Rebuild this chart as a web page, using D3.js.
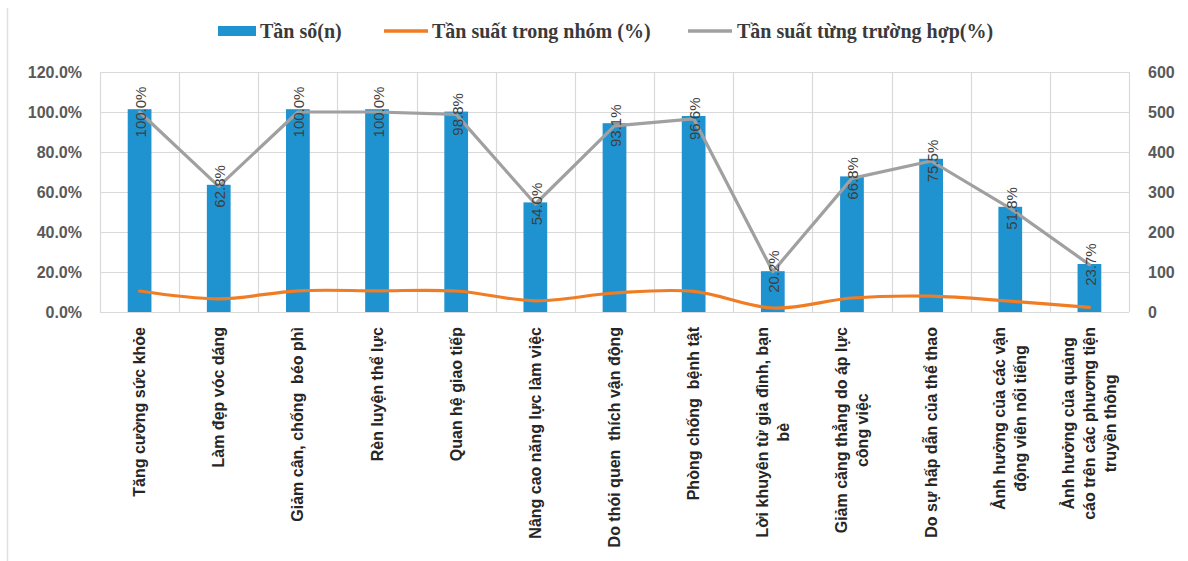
<!DOCTYPE html>
<html>
<head>
<meta charset="utf-8">
<script src="https://cdn.jsdelivr.net/npm/d3@7"></script>
<style>
  html, body { margin: 0; padding: 0; background: #fff; }
  svg { display: block; }
  .tick-label { font-family: "Liberation Sans", Arial, sans-serif; font-weight: bold; font-size: 16px; fill: #595959; }
  .cat-label { font-family: "Liberation Sans", Arial, sans-serif; font-weight: bold; font-size: 16px; fill: #262626; }
  .data-label { font-family: "Liberation Sans", Arial, sans-serif; font-size: 15px; fill: #404040; }
  .legend-text { font-family: "Liberation Serif", "Times New Roman", serif; font-weight: bold; font-size: 20px; fill: #3a3a3a; }
</style>
</head>
<body>
<svg id="chart" width="1188" height="561"></svg>
<script>
// Reasons for taking part in sport: counts, share within the group, share of cases
const categories = [
  "Tăng cường sức khỏe",
  "Làm đẹp vóc dáng",
  "Giảm cân, chống  béo phì",
  "Rèn luyện thể lực",
  "Quan hệ giao tiếp",
  "Nâng cao năng lực làm việc",
  "Do thói quen  thích vận động",
  "Phòng chống  bệnh tật",
  "Lời khuyên từ gia đình, bạn\nbè",
  "Giảm căng thẳng do áp lực\ncông việc",
  "Do sự hấp dẫn của thể thao",
  "Ảnh hưởng của các vận\nđộng viên nổi tiếng",
  "Ảnh hưởng của quảng\ncáo trên các phương tiện\ntruyền thông"
];
const counts = [507, 318, 507, 507, 501, 274, 472, 490, 102, 339, 383, 263, 120];
const groupShare = [10.5, 6.6, 10.6, 10.6, 10.5, 5.6, 9.5, 10.3, 2.0, 7.0, 7.9, 5.4, 2.3];
const caseShare = [100.0, 62.8, 100.0, 100.0, 98.8, 54.0, 93.1, 96.6, 20.2, 66.8, 75.5, 51.8, 23.7];
const leftTicks = [0, 20, 40, 60, 80, 100, 120];
const rightTicks = [0, 100, 200, 300, 400, 500, 600];
const legendItems = [
  { label: "Tần số(n)", type: "bar" },
  { label: "Tần suất trong nhóm (%)", type: "orange" },
  { label: "Tần suất từng trường hợp(%)", type: "grey" }
];

const colors = { bar: "#1f93d0", orange: "#f07c24", grey: "#a0a0a0", grid: "#d9d9d9" };

const svg = d3.select("#chart");
const plot = { left: 100, right: 1129, top: 72, bottom: 312 };

const x = d3.scaleBand().domain(d3.range(categories.length)).range([plot.left, plot.right]);
const yPct = d3.scaleLinear().domain([0, 120]).range([plot.bottom, plot.top]);
const yCount = d3.scaleLinear().domain([0, 600]).range([plot.bottom, plot.top]);
const cx = i => x(i) + x.bandwidth() / 2;

// outer frame line on the left side
svg.append("line").attr("x1", 7.5).attr("x2", 7.5).attr("y1", 8).attr("y2", 561)
  .attr("stroke", "#e0e0e0").attr("stroke-width", 1.5);

// gridlines
const grid = svg.append("g");
grid.selectAll("line.h").data(leftTicks).join("line")
  .attr("x1", plot.left).attr("x2", plot.right)
  .attr("y1", d => Math.round(yPct(d)) + 0.5).attr("y2", d => Math.round(yPct(d)) + 0.5)
  .attr("stroke", colors.grid).attr("stroke-width", 1.2);
grid.selectAll("line.v").data(d3.range(categories.length + 1)).join("line")
  .attr("x1", i => Math.round(plot.left + i * x.step()) + 0.5)
  .attr("x2", i => Math.round(plot.left + i * x.step()) + 0.5)
  .attr("y1", plot.top).attr("y2", plot.bottom)
  .attr("stroke", colors.grid).attr("stroke-width", 1.2);

// left axis (percent)
const leftAxis = svg.append("g").attr("transform", `translate(${plot.left},0)`)
  .call(d3.axisLeft(yPct).tickValues(leftTicks).tickSize(0).tickPadding(18)
    .tickFormat(d => d.toFixed(1) + "%"));
leftAxis.select(".domain").remove();
leftAxis.selectAll("text").attr("class", "tick-label").attr("fill", null);

// right axis (counts)
const rightAxis = svg.append("g").attr("transform", `translate(${plot.right},0)`)
  .call(d3.axisRight(yCount).tickValues(rightTicks).tickSize(0).tickPadding(19));
rightAxis.select(".domain").remove();
rightAxis.selectAll("text").attr("class", "tick-label").attr("fill", null);

// bars: counts on the right axis
const barW = x.bandwidth() * 0.3;
svg.append("g").selectAll("rect").data(counts).join("rect")
  .attr("x", (d, i) => cx(i) - barW / 2)
  .attr("width", barW)
  .attr("y", d => yCount(d))
  .attr("height", d => yCount(0) - yCount(d))
  .attr("fill", colors.bar);

// share within the group: smoothed orange line
svg.append("path").datum(groupShare)
  .attr("fill", "none").attr("stroke", colors.orange).attr("stroke-width", 3.2)
  .attr("stroke-linecap", "round")
  .attr("d", d3.line().x((d, i) => cx(i)).y(d => yPct(d)).curve(d3.curveCatmullRom.alpha(0)));

// share of cases: straight grey line
svg.append("path").datum(caseShare)
  .attr("fill", "none").attr("stroke", colors.grey).attr("stroke-width", 3.2)
  .attr("stroke-linejoin", "round").attr("stroke-linecap", "round")
  .attr("d", d3.line().x((d, i) => cx(i)).y(d => yPct(d)));

// value labels centred on the grey points
svg.append("g").selectAll("text").data(caseShare).join("text")
  .attr("class", "data-label")
  .attr("transform", (d, i) => `translate(${cx(i) + 1},${yPct(d)}) rotate(-90)`)
  .attr("text-anchor", "middle")
  .attr("dominant-baseline", "central")
  .text(d => d.toFixed(1) + "%");

// category labels, rotated, top-aligned under the axis
const lineH = 21;
const catTop = 327;
const catG = svg.append("g");
categories.forEach((c, i) => {
  const lines = c.split("\n");
  const g = catG.append("g").attr("transform", `translate(${cx(i)},${catTop}) rotate(-90)`);
  const texts = lines.map((ln, k) => g.append("text")
    .attr("class", "cat-label")
    .attr("xml:space", "preserve")
    .attr("text-anchor", "middle")
    .attr("dominant-baseline", "central")
    .attr("y", (k - (lines.length - 1) / 2) * lineH)
    .text(ln));
  const maxLen = d3.max(texts, t => t.node().getComputedTextLength());
  texts.forEach(t => t.attr("x", -maxLen / 2));
});

// legend
const legendLayout = [
  { sx: 218, tx: 260 },
  { sx: 384, tx: 432 },
  { sx: 688, tx: 737 }
];
const legY = 31;
const legend = svg.append("g");
legendItems.forEach((item, k) => {
  const pos = legendLayout[k];
  if (item.type === "bar") {
    legend.append("rect").attr("x", pos.sx).attr("y", legY - 5).attr("width", 38).attr("height", 10)
      .attr("fill", colors.bar);
  } else {
    legend.append("line").attr("x1", pos.sx).attr("x2", pos.sx + 44)
      .attr("y1", legY).attr("y2", legY)
      .attr("stroke", colors[item.type]).attr("stroke-width", 3.5);
  }
  legend.append("text").attr("class", "legend-text")
    .attr("x", pos.tx).attr("y", legY)
    .attr("dominant-baseline", "central")
    .text(item.label);
});
</script>
</body>
</html>
